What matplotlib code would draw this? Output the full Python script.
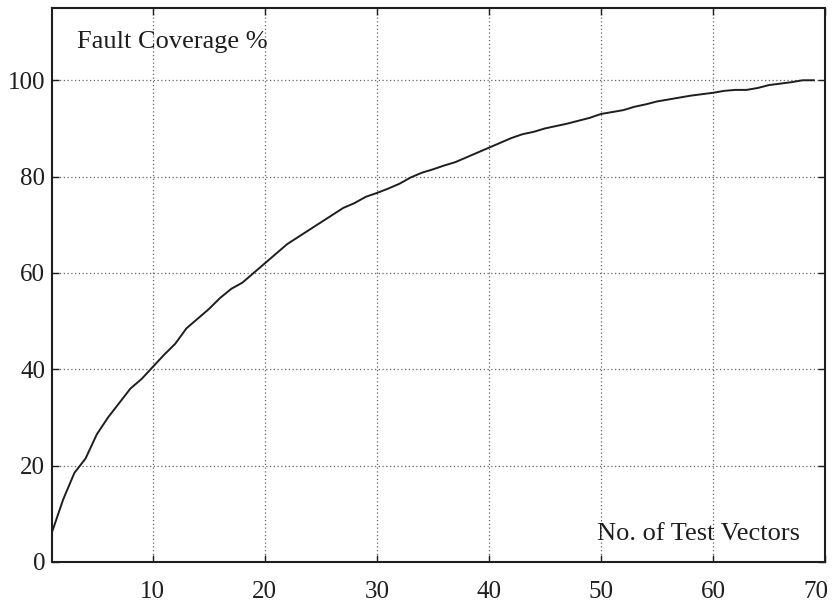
import matplotlib
matplotlib.use("Agg")
import matplotlib.pyplot as plt
from matplotlib.transforms import ScaledTranslation

# fault coverage after each applied test vector
vectors = list(range(1, 70))
coverage = [
    6.2, 13.0, 18.5, 21.5, 26.5, 30.0, 33.0, 36.0, 38.0, 40.5,
    43.0, 45.3, 48.5, 50.5, 52.5, 54.8, 56.7, 58.0, 60.0, 62.0,
    64.0, 66.0, 67.5, 69.0, 70.5, 72.0, 73.5, 74.5, 75.8, 76.6,
    77.5, 78.5, 79.8, 80.8, 81.5, 82.3, 83.0, 84.0, 85.0, 86.0,
    87.0, 88.0, 88.8, 89.3, 90.0, 90.5, 91.0, 91.6, 92.2, 93.0,
    93.4, 93.8, 94.5, 95.0, 95.6, 96.0, 96.4, 96.8, 97.1, 97.4,
    97.8, 98.0, 98.0, 98.4, 99.0, 99.3, 99.6, 100.0, 100.0,
]
x_ticks = [10, 20, 30, 40, 50, 60, 70]
y_ticks = [0, 20, 40, 60, 80, 100]

plt.rcParams["font.family"] = ["Liberation Serif", "DejaVu Serif"]

fig = plt.figure(figsize=(8.34, 6.04), dpi=100)
ax = fig.add_axes([52 / 834, 42 / 604, 773 / 834, 554 / 604])

ax.plot(vectors, coverage, color="#1e1e1e", lw=1.4)

ax.set_xlim(1, 70)
ax.set_ylim(0, 115)
ax.set_xticks(x_ticks)
ax.set_yticks(y_ticks)
ax.grid(True, linestyle=(0, (1, 2)), color="#666666", lw=0.9)
ax.tick_params(direction="in", top=True, right=True, length=5, width=1,
               labelsize=18, colors="#1e1e1e")
ax.tick_params(axis="x", pad=14)
ax.tick_params(axis="y", pad=5)
for s in ax.spines.values():
    s.set_linewidth(1.5)
    s.set_color("#1e1e1e")

# last x label sits against the figure edge, nudge it left a little
last = ax.get_xticklabels()[-1]
last.set_transform(last.get_transform() + ScaledTranslation(-9 / 100, 0, fig.dpi_scale_trans))

ax.text(0.032, 0.958, "Fault Coverage %", transform=ax.transAxes,
        fontsize=19, va="top", ha="left", color="#1e1e1e")
ax.text(0.968, 0.04, "No. of Test Vectors", transform=ax.transAxes,
        fontsize=19, va="baseline", ha="right", color="#1e1e1e")

fig.savefig("out.png", dpi=100)
